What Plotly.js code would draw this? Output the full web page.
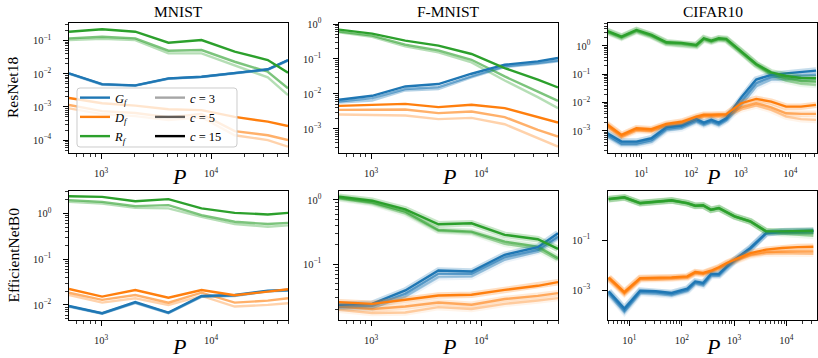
<!DOCTYPE html>
<html><head><meta charset="utf-8">
<script src="https://cdn.plot.ly/plotly-3.0.1.min.js"></script>
<style>html,body{margin:0;padding:0;background:#fff;}#chart{width:818px;height:358px;}</style>
</head><body><div id="chart"></div>
<script>
// ---------- x values ----------
const P_MNIST = [512, 1024, 2048, 4096, 8192, 16384, 32768, 50000];
const P_CIFAR_R = [2, 4, 8, 16, 32, 64, 128, 181, 256, 362, 512, 1024, 2048, 4096, 8192, 16384, 32768];
const P_CIFAR_E = [4, 8, 16, 32, 64, 128, 181, 256, 362, 512, 724, 1024, 2048, 4096, 8192, 16384, 32768];

// ---------- MNIST / ResNet18 ----------
const mnR_G3  = [0.0101, 0.0047, 0.0044, 0.0071, 0.0080, 0.0101, 0.0133, 0.0250];
const mnR_G5  = [0.0102, 0.0048, 0.0044, 0.0072, 0.0081, 0.0102, 0.0135, 0.0255];
const mnR_G15 = [0.01035, 0.0049, 0.0045, 0.0073, 0.0082, 0.0104, 0.0137, 0.0261];
const mnR_D3  = [0.00091, 0.00061, 0.00053, 0.00040, 0.00049, 0.00014, 0.00010, 0.000063];
const mnR_D5  = [0.00115, 0.00075, 0.00066, 0.00049, 0.00061, 0.000186, 0.00014, 0.00010];
const mnR_D15 = [0.00186, 0.0013, 0.0011, 0.00085, 0.0008, 0.0005, 0.00036, 0.000265];
const mnR_R3  = [0.105, 0.115, 0.105, 0.0416, 0.0416, 0.0185, 0.0078, 0.0023];
const mnR_R5  = [0.118, 0.132, 0.118, 0.0499, 0.0524, 0.0232, 0.0116, 0.00365];
const mnR_R15 = [0.187, 0.221, 0.187, 0.087, 0.105, 0.0466, 0.0261, 0.0108];

// ---------- F-MNIST / ResNet18 ----------
const fmR_G3  = [0.0057, 0.0065, 0.0126, 0.0138, 0.0296, 0.0589, 0.0733, 0.0853];
const fmR_G5  = [0.00607, 0.0076, 0.0138, 0.0157, 0.0317, 0.0613, 0.0767, 0.091];
const fmR_G15 = [0.0068, 0.00885, 0.0164, 0.0192, 0.0379, 0.0686, 0.0853, 0.107];
const fmR_D3  = [0.00257, 0.00247, 0.00241, 0.0019, 0.00207, 0.00136, 0.00054, 0.00031];
const fmR_D5  = [0.0035, 0.0035, 0.00358, 0.00282, 0.00313, 0.00217, 0.00094, 0.0006];
const fmR_D15 = [0.00457, 0.00479, 0.00521, 0.0042, 0.00489, 0.00393, 0.00217, 0.00152];
const fmR_R3  = [0.58, 0.428, 0.23, 0.155, 0.08, 0.0243, 0.0081, 0.0039];
const fmR_R5  = [0.607, 0.466, 0.257, 0.177, 0.095, 0.0317, 0.0117, 0.00635];
const fmR_R15 = [0.693, 0.532, 0.335, 0.241, 0.139, 0.0552, 0.0255, 0.0153];

// ---------- CIFAR10 / ResNet18 ----------
const cfR_G3  = [0.00066, 0.00032, 0.00032, 0.00041, 0.00105, 0.00122, 0.0021, 0.0016, 0.0020, 0.0016, 0.0023, 0.008, 0.037, 0.065, 0.065, 0.072, 0.072];
const cfR_G5  = [0.00075, 0.00036, 0.00036, 0.00047, 0.00118, 0.00138, 0.0023, 0.00175, 0.0022, 0.00175, 0.0025, 0.011, 0.048, 0.079, 0.083, 0.090, 0.095];
const cfR_G15 = [0.00085, 0.00042, 0.00042, 0.00055, 0.00135, 0.00155, 0.0026, 0.00196, 0.00245, 0.00196, 0.0028, 0.015, 0.065, 0.095, 0.108, 0.124, 0.135];
const cfR_D3  = [0.0015, 0.0006, 0.00104, 0.00097, 0.0015, 0.00178, 0.0027, 0.0032, 0.0032, 0.0032, 0.0033, 0.0058, 0.0079, 0.0055, 0.0032, 0.0026, 0.00245];
const cfR_D5  = [0.0016, 0.00065, 0.00112, 0.00104, 0.0016, 0.0019, 0.0029, 0.0034, 0.0034, 0.0034, 0.0036, 0.0068, 0.0095, 0.0068, 0.0042, 0.0040, 0.0040];
const cfR_D15 = [0.00177, 0.00072, 0.00124, 0.00115, 0.00177, 0.0021, 0.0032, 0.0037, 0.0037, 0.0037, 0.0039, 0.0095, 0.0135, 0.0108, 0.0072, 0.0072, 0.0083];
const cfR_R3  = [3.12, 1.92, 3.30, 2.20, 1.22, 1.15, 0.97, 1.68, 1.39, 1.68, 1.59, 0.59, 0.21, 0.095, 0.060, 0.046, 0.042];
const cfR_R5  = [3.30, 2.02, 3.49, 2.32, 1.28, 1.22, 1.03, 1.78, 1.46, 1.78, 1.68, 0.62, 0.22, 0.103, 0.072, 0.058, 0.055];
const cfR_R15 = [3.47, 2.13, 3.67, 2.44, 1.35, 1.28, 1.08, 1.87, 1.54, 1.87, 1.77, 0.65, 0.23, 0.117, 0.087, 0.074, 0.072];

// ---------- MNIST / EfficientNetB0 ----------
const mnE_G3  = [0.0091, 0.0064, 0.0110, 0.0066, 0.0150, 0.0157, 0.0197, 0.0205];
const mnE_G5  = [0.0093, 0.0065, 0.0112, 0.0067, 0.0153, 0.0160, 0.0200, 0.0208];
const mnE_G15 = [0.0095, 0.0066, 0.0115, 0.0068, 0.0157, 0.0165, 0.0205, 0.0212];
const mnE_D3  = [0.0165, 0.0112, 0.0140, 0.0100, 0.0157, 0.0092, 0.0100, 0.0109];
const mnE_D5  = [0.0185, 0.0129, 0.0165, 0.0112, 0.0185, 0.0112, 0.0124, 0.0140];
const mnE_D15 = [0.0223, 0.0152, 0.0212, 0.0144, 0.0212, 0.0163, 0.0195, 0.0220];
const mnE_R3  = [1.79, 1.65, 1.32, 1.29, 0.84, 0.585, 0.51, 0.547];
const mnE_R5  = [1.95, 1.79, 1.44, 1.52, 0.92, 0.656, 0.585, 0.62];
const mnE_R15 = [2.38, 2.30, 1.85, 2.05, 1.29, 1.03, 0.95, 1.03];

// ---------- F-MNIST / EfficientNetB0 ----------
const fmE_G3  = [0.0207, 0.0207, 0.0313, 0.0628, 0.0641, 0.117, 0.157, 0.254];
const fmE_G5  = [0.0219, 0.0225, 0.0345, 0.0707, 0.0707, 0.128, 0.167, 0.268];
const fmE_G15 = [0.0233, 0.0241, 0.0389, 0.0795, 0.0767, 0.140, 0.184, 0.303];
const fmE_D3  = [0.0195, 0.0173, 0.0177, 0.0214, 0.0200, 0.0241, 0.0272, 0.0296];
const fmE_D5  = [0.0219, 0.0200, 0.0219, 0.0253, 0.0233, 0.0286, 0.0321, 0.0354];
const fmE_D15 = [0.0256, 0.0241, 0.0279, 0.0325, 0.0333, 0.0398, 0.0460, 0.0525];
const fmE_R3  = [1.06, 0.89, 0.62, 0.33, 0.31, 0.207, 0.173, 0.117];
const fmE_R5  = [1.086, 0.92, 0.658, 0.341, 0.321, 0.224, 0.188, 0.124];
const fmE_R15 = [1.125, 0.975, 0.716, 0.419, 0.434, 0.286, 0.245, 0.173];

// ---------- CIFAR10 / EfficientNetB0 ----------
const cfE_G3  = [0.0007, 0.00013, 0.00076, 0.00072, 0.0006, 0.0009, 0.0018, 0.0015, 0.0036, 0.0037, 0.0076, 0.014, 0.042, 0.180, 0.205, 0.218, 0.222];
const cfE_G5  = [0.0008, 0.00015, 0.00085, 0.0008, 0.00068, 0.0010, 0.0020, 0.0017, 0.0040, 0.0040, 0.0082, 0.015, 0.045, 0.185, 0.215, 0.228, 0.230];
const cfE_G15 = [0.00089, 0.00018, 0.00094, 0.00089, 0.00076, 0.00113, 0.0022, 0.0019, 0.0044, 0.0044, 0.0089, 0.0163, 0.048, 0.190, 0.222, 0.236, 0.236];
const cfE_D3  = [0.0028, 0.0007, 0.0026, 0.0026, 0.0028, 0.0031, 0.0046, 0.0043, 0.0053, 0.0072, 0.0106, 0.0145, 0.0236, 0.029, 0.030, 0.029, 0.0283];
const cfE_D5  = [0.0030, 0.00075, 0.0028, 0.0028, 0.0030, 0.0033, 0.0049, 0.0045, 0.0056, 0.0076, 0.0112, 0.0152, 0.0259, 0.033, 0.035, 0.035, 0.035];
const cfE_D15 = [0.0032, 0.00083, 0.0030, 0.0030, 0.0032, 0.0035, 0.0052, 0.0048, 0.0059, 0.0081, 0.0120, 0.0163, 0.030, 0.041, 0.048, 0.052, 0.054];
const cfE_R3  = [4.2, 4.9, 2.9, 3.4, 3.75, 2.9, 2.28, 2.36, 1.57, 1.84, 1.28, 0.86, 0.54, 0.218, 0.179, 0.163, 0.148];
const cfE_R5  = [4.3, 5.0, 2.95, 3.45, 3.8, 2.95, 2.32, 2.40, 1.60, 1.87, 1.30, 0.87, 0.55, 0.220, 0.203, 0.192, 0.187];
const cfE_R15 = [4.37, 5.1, 3.0, 3.5, 3.87, 3.0, 2.36, 2.44, 1.63, 1.90, 1.32, 0.886, 0.56, 0.222, 0.222, 0.230, 0.236];

// ---------- labels ----------
const COLUMN_TITLES = ['MNIST', 'F-MNIST', 'CIFAR10'];
const ROW_TITLES = ['ResNet18', 'EfficientNetB0'];
const C_VALUES = [3, 5, 15];
const SERIES_NAMES = ['<i>G</i><sub><i>f</i></sub>', '<i>D</i><sub><i>f</i></sub>', '<i>R</i><sub><i>f</i></sub>'];

// ---------- styling ----------
const COLORS = ['#1f77b4', '#ff7f0e', '#2ca02c'];
const ALPHA = [0.35, 0.62, 1.0];
const SERIF = 'Liberation Serif, DejaVu Serif, serif';

const panels = [
  {xa: 'x',  ya: 'y',  P: P_MNIST,   band: false, s: [[mnR_G3, mnR_G5, mnR_G15], [mnR_D3, mnR_D5, mnR_D15], [mnR_R3, mnR_R5, mnR_R15]]},
  {xa: 'x2', ya: 'y2', P: P_MNIST,   band: false, s: [[fmR_G3, fmR_G5, fmR_G15], [fmR_D3, fmR_D5, fmR_D15], [fmR_R3, fmR_R5, fmR_R15]]},
  {xa: 'x3', ya: 'y3', P: P_CIFAR_R, band: true,  s: [[cfR_G3, cfR_G5, cfR_G15], [cfR_D3, cfR_D5, cfR_D15], [cfR_R3, cfR_R5, cfR_R15]]},
  {xa: 'x4', ya: 'y4', P: P_MNIST,   band: false, s: [[mnE_G3, mnE_G5, mnE_G15], [mnE_D3, mnE_D5, mnE_D15], [mnE_R3, mnE_R5, mnE_R15]]},
  {xa: 'x5', ya: 'y5', P: P_MNIST,   band: true,  s: [[fmE_G3, fmE_G5, fmE_G15], [fmE_D3, fmE_D5, fmE_D15], [fmE_R3, fmE_R5, fmE_R15]]},
  {xa: 'x6', ya: 'y6', P: P_CIFAR_E, band: true,  s: [[cfE_G3, cfE_G5, cfE_G15], [cfE_D3, cfE_D5, cfE_D15], [cfE_R3, cfE_R5, cfE_R15]]}
];

const traces = [];
panels.forEach(p => {
  for (let ci = 0; ci < 3; ci++) {
    for (let si = 0; si < 3; si++) {
      if (p.band) {
        traces.push({x: p.P, y: p.s[si][ci], xaxis: p.xa, yaxis: p.ya, mode: 'lines', showlegend: false,
          hoverinfo: 'skip', opacity: ALPHA[ci] * 0.25, line: {color: COLORS[si], width: 6.5}});
      }
      traces.push({x: p.P, y: p.s[si][ci], xaxis: p.xa, yaxis: p.ya, mode: 'lines', showlegend: false,
        opacity: ALPHA[ci], line: {color: COLORS[si], width: 2.4},
        name: SERIES_NAMES[si] + ' c=' + C_VALUES[ci]});
    }
  }
});
// legend entries
SERIES_NAMES.forEach((n, si) => traces.push({x: [null], y: [null], xaxis: 'x', yaxis: 'y', mode: 'lines',
  name: n, legend: 'legend', showlegend: true, line: {color: COLORS[si], width: 2.4}}));
C_VALUES.forEach((c, ci) => traces.push({x: [null], y: [null], xaxis: 'x', yaxis: 'y', mode: 'lines',
  name: '<i>c</i> = ' + c, legend: 'legend2', showlegend: true, opacity: ALPHA[ci], line: {color: '#000', width: 2.4}}));

// ---------- axes ----------
const W = 818, H = 358;
const colPx = [[69, 288], [339, 558], [608, 817]];
const rowPx = [[23, 153], [191, 320]];
const xRanges = [[Math.log10(512), Math.log10(50000)], [Math.log10(512), Math.log10(50000)], [0.33, 4.535],
                 [Math.log10(512), Math.log10(50000)], [Math.log10(512), Math.log10(50000)], [0.59, 4.585]];
const yRanges = [[-4.39, -0.465], [-3.69, 0.03], [-3.78, 0.81], [-2.33, 0.49], [-1.87, 0.14], [-4.2, 0.96]];
const yMajorStep = [1, 1, 1, 1, 1, 2];
const yMajorStart = [-4, -3, -3, -2, -1, -3];
const yMinor = [true, true, true, true, true, false];

function sup(e) { return '10<sup>' + (e < 0 ? '\u2212' + (-e) : e) + '</sup>'; }
function majors(r, start, step) {
  const v = [], t = [];
  for (let e = start; e <= Math.floor(r[1]); e += step) if (e >= r[0]) { v.push(Math.pow(10, e)); t.push(sup(e)); }
  return {v, t};
}
function minors(r) {
  const v = [];
  for (let e = Math.floor(r[0]); e <= Math.ceil(r[1]); e++)
    for (let d = 2; d <= 9; d++) { const val = d * Math.pow(10, e); const l = Math.log10(val); if (l >= r[0] && l <= r[1]) v.push(val); }
  return v;
}
function axisBase() {
  return {type: 'log', showgrid: false, zeroline: false, showline: true, linecolor: '#000', linewidth: 1.1,
    mirror: true, ticks: 'outside', ticklen: 4.5, tickwidth: 1, tickcolor: '#000', tickmode: 'array',
    tickfont: {family: SERIF, size: 10.5, color: '#222'}};
}
const layout = {width: W, height: H, margin: {l: 0, r: 0, t: 0, b: 0}, paper_bgcolor: '#fff', plot_bgcolor: '#fff',
  showlegend: true, annotations: [], shapes: []};

for (let i = 0; i < 6; i++) {
  const col = i % 3, row = Math.floor(i / 3);
  const n = i === 0 ? '' : String(i + 1);
  const xr = xRanges[i], yr = yRanges[i];
  const xm = majors(xr, Math.ceil(xr[0]), 1);
  const ym = majors(yr, yMajorStart[i], yMajorStep[i]);
  const xa = axisBase();
  Object.assign(xa, {range: xr, domain: [colPx[col][0] / W, colPx[col][1] / W], anchor: 'y' + n,
    tickvals: xm.v, ticktext: xm.t, ticklabelstandoff: 6,
    minor: {ticks: 'outside', ticklen: 2.5, tickwidth: 0.8, tickcolor: '#000', tickmode: 'array', tickvals: minors(xr), showgrid: false}});
  const ya = axisBase();
  Object.assign(ya, {range: yr, domain: [1 - rowPx[row][1] / H, 1 - rowPx[row][0] / H], anchor: 'x' + n,
    tickvals: ym.v, ticktext: ym.t, ticklabelstandoff: 10});
  if (yMinor[i]) ya.minor = {ticks: 'outside', ticklen: 2.5, tickwidth: 0.8, tickcolor: '#000', tickmode: 'array', tickvals: minors(yr), showgrid: false};
  layout['xaxis' + n] = xa;
  layout['yaxis' + n] = ya;
  // x title P
  layout.annotations.push({text: '<i>P</i>', xref: 'paper', yref: 'paper', showarrow: false,
    x: (colPx[col][0] + colPx[col][1]) / 2 / W, y: 1 - (row === 0 ? 177 : 346) / H,
    xanchor: 'center', yanchor: 'middle', font: {family: SERIF, size: 22, color: '#000'}});
}
COLUMN_TITLES.forEach((t, col) => layout.annotations.push({text: t, xref: 'paper', yref: 'paper', showarrow: false,
  x: (colPx[col][0] + colPx[col][1]) / 2 / W, y: 1 - 11 / H, xanchor: 'center', yanchor: 'middle',
  font: {family: SERIF, size: 15.5, color: '#000'}}));
ROW_TITLES.forEach((t, row) => layout.annotations.push({text: t, xref: 'paper', yref: 'paper', showarrow: false,
  x: 13 / W, y: 1 - (rowPx[row][0] + rowPx[row][1]) / 2 / H, xanchor: 'center', yanchor: 'middle', textangle: -90,
  font: {family: SERIF, size: 15.5, color: '#000'}}));

// legend frame (rounded box)
(function () {
  const x0 = 77, x1 = 237, y0 = 88, y1 = 147, r = 3;
  const X = v => (v / W).toFixed(5), Y = v => (1 - v / H).toFixed(5);
  const path = `M ${X(x0 + r)},${Y(y0)} L ${X(x1 - r)},${Y(y0)} Q ${X(x1)},${Y(y0)} ${X(x1)},${Y(y0 + r)} ` +
    `L ${X(x1)},${Y(y1 - r)} Q ${X(x1)},${Y(y1)} ${X(x1 - r)},${Y(y1)} L ${X(x0 + r)},${Y(y1)} ` +
    `Q ${X(x0)},${Y(y1)} ${X(x0)},${Y(y1 - r)} L ${X(x0)},${Y(y0 + r)} Q ${X(x0)},${Y(y0)} ${X(x0 + r)},${Y(y0)} Z`;
  layout.shapes.push({type: 'path', path, xref: 'paper', yref: 'paper', layer: 'above',
    fillcolor: 'rgba(255,255,255,0.8)', line: {color: '#cccccc', width: 1}});
})();
const legendBase = {bgcolor: 'rgba(0,0,0,0)', borderwidth: 0, font: {family: SERIF, size: 12.5, color: '#000'},
  xanchor: 'left', yanchor: 'top', traceorder: 'normal', itemwidth: 30, orientation: 'v'};
layout.legend = Object.assign({}, legendBase, {x: 75 / W, y: 1 - 83 / H});
layout.legend2 = Object.assign({}, legendBase, {x: 150 / W, y: 1 - 83 / H});

Plotly.newPlot('chart', traces, layout, {displayModeBar: false, staticPlot: true});
</script>
</body></html>
